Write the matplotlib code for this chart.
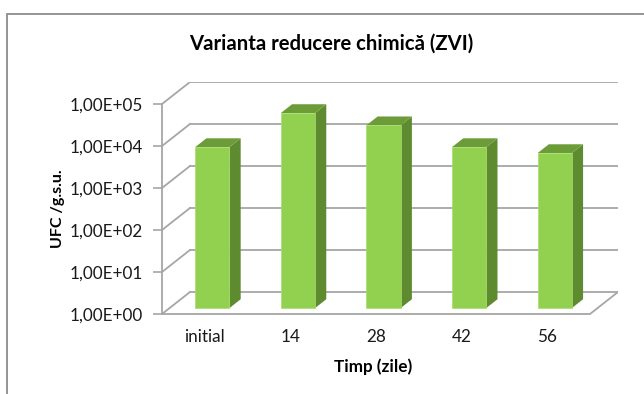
import numpy as np
import matplotlib
matplotlib.use('Agg')
import matplotlib.pyplot as plt
from matplotlib.patches import Rectangle
from matplotlib.ticker import FixedLocator, FuncFormatter

plt.rcParams['font.family'] = ['Lato', 'DejaVu Sans']

categories = ['initial', '14', '28', '42', '56']
ufc = [6800, 44000, 22500, 6800, 4900]  # UFC / g.s.u.
decades = [1, 10, 100, 1000, 10000, 100000]

# oblique "3D" look: depth offsets in data units (x) and decades (y)
depth_x = 0.327
depth_y = 0.524
d_front, d_back = 0.27, 0.67   # where the columns sit inside the depth
bar_w = 0.40

grid_col = '#A6A6A6'
face_col = '#92D050'
side_col = '#5E8A30'
top_col = '#6C9C38'

fig = plt.figure(figsize=(6.44, 3.94), dpi=100)
ax = fig.add_axes([162 / 644, 80 / 394, 456 / 644, 232 / 394])
ax.set_yscale('log')
ax.set_xlim(-0.5, 4.5 + depth_x)
ax.set_ylim(1, 10 ** (5 + depth_y))

# chart area border
fig.patches.append(Rectangle((7 / 644, -0.1), 1.2, 1.1 - 14 / 394,
                             transform=fig.transFigure, fill=False,
                             edgecolor='#8C8C8C', linewidth=1.3))

# back wall gridlines + side wall diagonals
shift = 10 ** depth_y
for v in decades:
    ax.plot([-0.5 + depth_x, 4.5 + depth_x], [v * shift, v * shift],
            color=grid_col, lw=1.3, zorder=1)
    ax.plot([-0.5, -0.5 + depth_x], [v, v * shift], color=grid_col, lw=1.3, zorder=1)
# floor right edge
ax.plot([4.5, 4.5 + depth_x], [1, shift], color=grid_col, lw=1.3, zorder=1)

# columns
x = np.arange(len(categories))
x0 = x + d_front * depth_x
base = 10 ** (d_front * depth_y)
tops = np.array(ufc) * base
ax.bar(x0, tops - base, bottom=base, width=bar_w, color=face_col,
       edgecolor='#A9DC6E', linewidth=0.5, zorder=3)
ddx = (d_back - d_front) * depth_x
ddy = 10 ** ((d_back - d_front) * depth_y)
for xc, t in zip(x0, tops):
    xl, xr = xc - bar_w / 2, xc + bar_w / 2
    ax.fill([xr, xr + ddx, xr + ddx, xr], [base, base * ddy, t * ddy, t],
            color=side_col, zorder=2, lw=0)
    ax.fill([xl, xr, xr + ddx, xl + ddx], [t, t, t * ddy, t * ddy],
            color=top_col, zorder=2, lw=0)

# front axis lines
for s in ['top', 'right']:
    ax.spines[s].set_visible(False)
ax.spines['left'].set_bounds(1, 1e5)
ax.spines['bottom'].set_bounds(-0.5, 4.5)
for s in ['left', 'bottom']:
    ax.spines[s].set_color(grid_col)
    ax.spines[s].set_linewidth(1.3)

ax.yaxis.set_major_locator(FixedLocator(decades))
ax.yaxis.set_minor_locator(FixedLocator([]))
ax.yaxis.set_major_formatter(FuncFormatter(lambda v, p: f'{v:.2E}'.replace('.', ',')))
ax.tick_params(axis='y', length=6.5, width=1.2, color=grid_col, pad=7,
               labelsize=12.3, labelcolor='#1a1a1a')
ax.set_xticks(x)
ax.set_xticklabels(categories)
ax.tick_params(axis='x', length=0, pad=11, labelsize=12.3, labelcolor='#1a1a1a')

ax.text(-0.228, 0.4526, 'UFC /g.s.u.', transform=ax.transAxes, rotation=90,
        ha='center', va='center', fontsize=11.5, fontweight='bold')
ax.text((373 - 162) / 456, (314 - 367) / 232, 'Timp (zile)', transform=ax.transAxes,
        ha='center', va='center', fontsize=12.3, fontweight='bold')
fig.text(331 / 644, 1 - 44 / 394, 'Varianta reducere chimică (ZVI)',
         ha='center', va='center', fontsize=14.6, fontweight='bold')

fig.savefig('out.png', dpi=100)
